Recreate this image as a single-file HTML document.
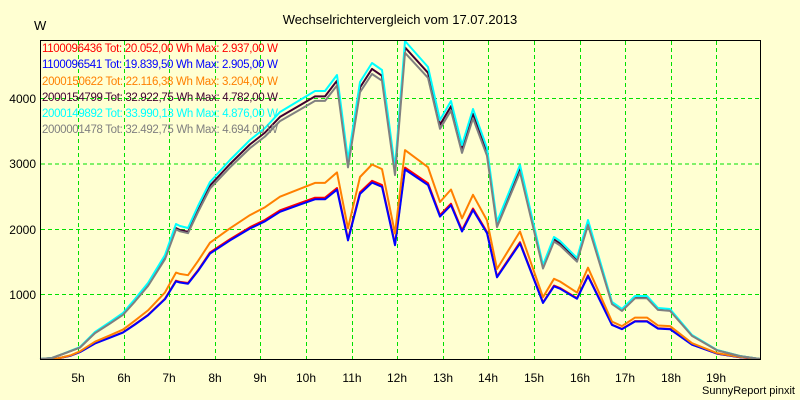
<!DOCTYPE html>
<html><head><meta charset="utf-8"><style>
body{margin:0;background:#FFFFD2;}
svg{display:block;font-family:"Liberation Sans",sans-serif;}
</style></head><body>
<svg id="s" width="800" height="400" xmlns="http://www.w3.org/2000/svg">
<rect width="800" height="400" fill="#FFFFD2"/>
<text x="400" y="24" font-size="13" text-anchor="middle">Wechselrichtervergleich vom 17.07.2013</text>
<text x="34" y="30" font-size="13">W</text>
<g id="grid" stroke="#00E000" stroke-width="1" stroke-dasharray="4,3"></g>
<g id="lines" fill="none" stroke-width="2" stroke-linejoin="round"></g>
<rect x="40.5" y="40.5" width="720" height="319" fill="none" stroke="#000" stroke-width="1"/>
<g font-size="12" text-anchor="end">
<text x="36" y="103">4000</text><text x="36" y="168">3000</text><text x="36" y="234">2000</text><text x="36" y="299">1000</text>
</g>
<g id="xl" font-size="12" text-anchor="middle"></g>
<g font-size="11.5">
<text x="42" y="52" fill="#FF0000" textLength="236">1100096436 Tot: 20.052,00 Wh Max: 2.937,00 W</text>
<text x="42" y="68" fill="#0000FF" textLength="236">1100096541 Tot: 19.839,50 Wh Max: 2.905,00 W</text>
<text x="42" y="85" fill="#FF8000" textLength="236">2000150622 Tot: 22.116,38 Wh Max: 3.204,00 W</text>
<text x="42" y="101" fill="#400030" textLength="236">2000154799 Tot: 32.922,75 Wh Max: 4.782,00 W</text>
<text x="42" y="117" fill="#00FFFF" textLength="236">2000149892 Tot: 33.990,13 Wh Max: 4.876,00 W</text>
<text x="42" y="133" fill="#808080" textLength="236">2000001478 Tot: 32.492,75 Wh Max: 4.694,00 W</text>
</g>
<text x="795" y="394" font-size="11" text-anchor="end">SunnyReport pinxit</text>
</svg>
<script>
var NS="http://www.w3.org/2000/svg";
function el(p,t,a){var e=document.createElementNS(NS,t);for(var k in a)e.setAttribute(k,a[k]);p.appendChild(e);return e;}
var g=document.getElementById("grid"),xl=document.getElementById("xl");
[98,163.5,229,294].forEach(function(y){el(g,"line",{x1:41,x2:760,y1:y+.5,y2:y+.5});});
for(var h=5;h<=19;h++){var x=Math.round(78+(h-5)*45.6);el(g,"line",{x1:x+.5,x2:x+.5,y1:41,y2:359});
var t=el(xl,"text",{x:x,y:382});t.textContent=h+"h";}
var c=[[40,359],[52,358],[65,353],[80,347],[95,332],[110,322],[123,313],[135,299],[148,283],[165,255],[176,224],[180,226],[188,228],[198,206],[210,182],[230,160],[250,140],[265,128],[280,112],[300,100],[315,91],[325,91],[337,75],[348,160],[360,82],[372,63],[382,70],[395,168],[405,41],[428,67],[440,120],[451,101],[462,145],[473,109],[487,148],[497,222],[520,165],[543,265],[554,237],[560,241],[577,258],[588,220],[612,302],[622,309],[635,296],[647,296],[658,308],[670,309],[692,335],[717,350],[740,356],[760,359]];
var series=[["#FF0000",0.602,0.58],["#0000FF",0.596,0.575],["#FF8000",0.657,0.64],["#400030",0.98,0.97],["#00FFFF",1,1],["#808080",0.963,0.96]];
var L=document.getElementById("lines");
series.forEach(function(s){var pts=c.map(function(p){var v=359-p[1];var r=p[0]<200?s[2]:s[1];var sh=(s[0]=="#0000FF"||s[0]=="#FF0000"||s[0]=="#FF8000")&&p[0]<70?6:0;return (p[0]+sh)+","+(359-v*r).toFixed(1);}).join(" ");
el(L,"polyline",{points:pts,stroke:s[0]});});
</script>
</body></html>
